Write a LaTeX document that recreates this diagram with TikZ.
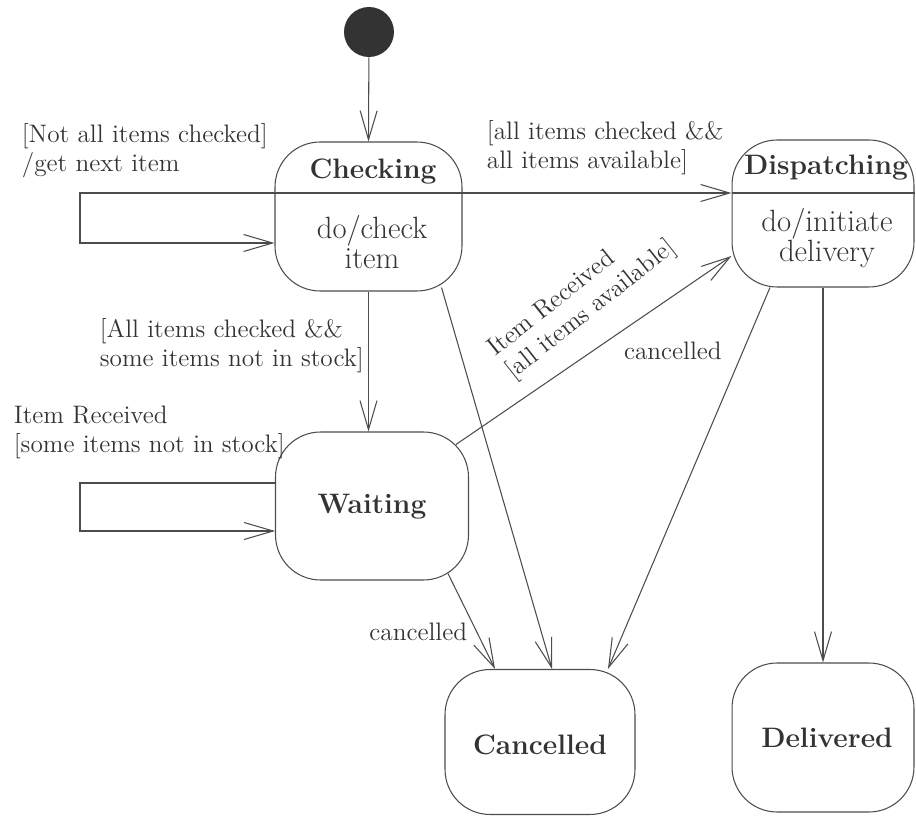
\documentclass[tikz,border=0pt]{standalone}
\usepackage{amsmath,amssymb}
\usepackage{xcolor}
\usepackage{tikz}
\usetikzlibrary{arrows.meta}

\tikzset{
  state/.style={draw=black!70, line width=0.6pt, rounded corners=0.9cm},
  sname/.style={font=\fontsize{16}{19}\selectfont\bfseries, text=black!80},
  sdo/.style={font=\fontsize{17.5}{17.5}\selectfont, text=black!80, align=center},
  guard/.style={font=\fontsize{14.4}{16.5}\selectfont, text=black!80, align=left, inner sep=2pt},
  plain/.style={draw=black!70, line width=0.6pt},
  trans/.style={plain, -{Straight Barb[length=0.58cm, width=0.34cm]}},
}

\begin{document}
\begin{tikzpicture}[x=0.02cm, y=-0.02cm]
  \useasboundingbox (0,0) rectangle (916,817);

  % states
  \node[circle, fill=black!80, minimum size=1cm, inner sep=0pt] (init) at (369,32) {};
  \node[state, minimum width=3.74cm, minimum height=2.98cm] (chk) at (368.5,216.5) {};
  \node[sname] (chkname) at (373,172) {Checking};
  \node[sdo] (chkdo) at (372,242) {do/check\\item};
  \node[state, minimum width=3.64cm, minimum height=2.94cm] (dsp) at (823,213.5) {};
  \node[sname] (dspname) at (826,168) {Dispatching};
  \node[sdo] (dspdo) at (827,238) {do/initiate\\delivery};
  \node[state, minimum width=3.86cm, minimum height=2.96cm] (wt) at (372,506) {};
  \node[sname] (wtname) at (372,507) {Waiting};
  \node[state, minimum width=3.8cm, minimum height=2.9cm] (cnc) at (540,742) {};
  \node[sname] (cncname) at (540,745) {Cancelled};
  \node[state, minimum width=3.64cm, minimum height=2.98cm] (dlv) at (823,737.5) {};
  \node[sname] (dlvname) at (827,738) {Delivered};

  % loop corners
  \coordinate (chkup) at (80,193);
  \coordinate (chkdn) at (80,243);
  \coordinate (wtup) at (80,483);
  \coordinate (wtdn) at (80,531);

  % compartment lines
  \draw[plain] (chk.west |- chkup) -- (chk.east |- chkup);
  \draw[plain] (dsp.west |- chkup) -- (dsp.east |- chkup);

  % transitions
  \draw[trans] (init) -- (chk.north);
  \draw[trans] (chk.west |- chkup) -- (chkup) -- (chkdn) -- (chk.west |- chkdn);
  \draw[trans] (chk.east |- chkup) -- (dsp.west |- chkup);
  \draw[trans] (chk.south) -- (chk.south |- wt.north);
  \draw[trans] ([xshift=-0.42cm, yshift=0.08cm]chk.south east) -- ([xshift=0.24cm]cnc.north);
  \draw[trans] (wt.west |- wtup) -- (wtup) -- (wtdn) -- (wt.west |- wtdn);
  \draw[trans] ([xshift=-0.26cm, yshift=-0.26cm]wt.north east) -- ([yshift=-0.85cm]dsp.west)
    node[guard, pos=0.565, sloped, above=0.36cm, rotate=4] (g5) {Item Received\\{[}all items available{]}};
  \draw[trans] ([xshift=-0.42cm, yshift=0.14cm]wt.south east) -- ([xshift=-0.9cm]cnc.north)
    node[guard, pos=0.61, left=0.11cm] (c2) {cancelled};
  \draw[trans] ([xshift=-1.06cm]dsp.south) -- ([xshift=1.36cm]cnc.north)
    node[guard, pos=0.165, left=0.35cm] (c1) {cancelled};
  \draw[trans] (dsp.south) -- (dlv.north);

  % guards
  \node[guard, anchor=west] (g1) at (18,151) {{[}Not all items checked{]}\\/get next item};
  \node[guard, anchor=west] (g2) at (483,148) {{[}all items checked \&\&\\all items available{]}};
  \node[guard, anchor=west] (g3) at (96,346) {{[}All items checked \&\&\\some items not in stock{]}};
  \node[guard, anchor=west] (g4) at (10,432) {Item Received\\{[}some items not in stock{]}};
\end{tikzpicture}
\end{document}
